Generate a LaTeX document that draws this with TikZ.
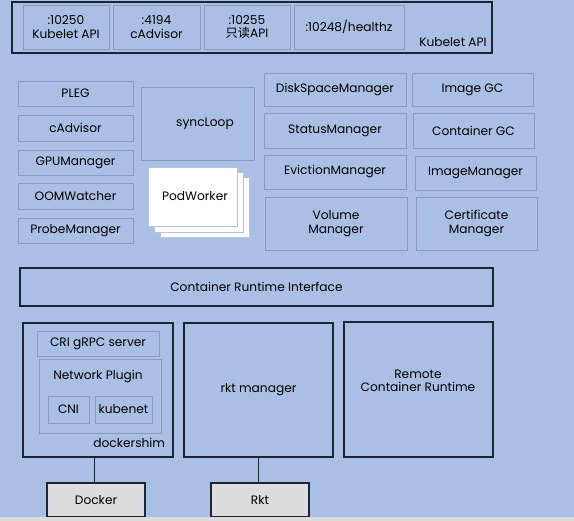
\documentclass[tikz,border=0pt]{standalone}
\usepackage{fontspec}
\setmainfont{Poppins}
\newfontfamily\cjk{Noto Sans CJK SC}
\definecolor{bgblue}{HTML}{AABFE4}
\definecolor{darkb}{HTML}{1C2438}
\definecolor{lightb}{HTML}{8A9CC0}
\definecolor{grayfill}{HTML}{DCDCDC}
\begin{document}
\begin{tikzpicture}[x=1pt,y=-1pt,
  every node/.style={font=\fontsize{12.2}{13.5}\selectfont, text=black, align=center, inner sep=0pt, outer sep=0pt},
  mbox/.style={draw=lightb, line width=0.7pt, fill=bgblue},
  dbox/.style={draw=darkb, line width=1.2pt},
  gbox/.style={draw=darkb, line width=1.1pt, fill=grayfill},
  wbox/.style={draw=lightb!60, line width=0.6pt, fill=white},
  conn/.style={draw=darkb, line width=1pt}]
\fill[bgblue] (0,0) rectangle (574,521);
\useasboundingbox (0,0) rectangle (574,521);
% Kubelet API bar
\node[dbox, anchor=north west, minimum width=480, minimum height=51] (top) at (12,2) {};
\node[mbox, anchor=north west, minimum width=86, minimum height=44] (p1) at (23,5) {:10250\\Kubelet API};
\node[mbox, anchor=north west, minimum width=87, minimum height=44] (p2) at (113,5) {:4194\\cAdvisor};
\node[mbox, anchor=north west, minimum width=86, minimum height=44] (p3) at (204,5) {:10255\\{\cjk 只读}API};
\node[mbox, anchor=north west, minimum width=110, minimum height=44] (p4) at (294,5) {:10248/healthz};
\node (toplabel) at (453,42) {Kubelet API};
% left column
\node[mbox, anchor=north west, minimum width=115, minimum height=25] (pleg) at (18,81) {PLEG};
\node[mbox, anchor=north west, minimum width=115, minimum height=26] (cadv) at (18,115) {cAdvisor};
\node[mbox, anchor=north west, minimum width=115, minimum height=25] (gpu) at (18,150) {GPUManager};
\node[mbox, anchor=north west, minimum width=115, minimum height=26] (oom) at (18,183) {OOMWatcher};
\node[mbox, anchor=north west, minimum width=115, minimum height=25] (probe) at (18,218) {ProbeManager};
% syncLoop & PodWorker
\node[mbox, anchor=north west, minimum width=113, minimum height=73] (sync) at (141,87) {\hspace*{15pt}syncLoop};
\node[wbox, anchor=north west, minimum width=89, minimum height=60] (pw3) at (160,177) {};
\node[wbox, anchor=north west, minimum width=89, minimum height=60] (pw2) at (154,172) {};
\node[wbox, anchor=north west, minimum width=89, minimum height=59] (pw1) at (148,167) {\hspace*{5pt}PodWorker};
% right managers
\node[mbox, anchor=north west, minimum width=142, minimum height=33] (disk) at (264,73) {DiskSpaceManager};
\node[mbox, anchor=north west, minimum width=121, minimum height=33] (igc) at (412,73) {Image GC};
\node[mbox, anchor=north west, minimum width=142, minimum height=35] (status) at (264,113) {StatusManager};
\node[mbox, anchor=north west, minimum width=121, minimum height=35] (cgc) at (413,113) {Container GC};
\node[mbox, anchor=north west, minimum width=142, minimum height=34] (evict) at (264,155) {EvictionManager};
\node[mbox, anchor=north west, minimum width=121, minimum height=34] (imgm) at (415,156) {ImageManager};
\node[mbox, anchor=north west, minimum width=142, minimum height=53] (vol) at (265,197) {Volume\\Manager};
\node[mbox, anchor=north west, minimum width=121, minimum height=53] (cert) at (416,197) {Certificate\\Manager};
% CRI
\node[dbox, anchor=north west, minimum width=473, minimum height=38] (cri) at (20,268) {Container Runtime Interface};
% dockershim
\node[dbox, anchor=north west, minimum width=150, minimum height=134] (shim) at (23,323) {};
\node[mbox, anchor=north west, minimum width=122, minimum height=25] (grpc) at (37,331) {CRI gRPC server};
\node[mbox, anchor=north west, minimum width=122, minimum height=74] (net) at (39,359) {};
\node (netlabel) at (98,377) {Network Plugin};
\node[mbox, anchor=north west, minimum width=41, minimum height=27] (cni) at (48,396) {CNI};
\node[mbox, anchor=north west, minimum width=57, minimum height=27] (kubenet) at (95,396) {kubenet};
\node[anchor=east] (shimlabel) at (165,443) {dockershim};
\node[dbox, anchor=north west, minimum width=149, minimum height=134] (rkt) at (184,323) {rkt manager};
\node[dbox, anchor=north west, minimum width=149, minimum height=135] (remote) at (344,322) {};
\node (remotelabel) at (418,381) {Remote\\Container Runtime};
% runtimes
\node[gbox, anchor=north west, minimum width=98, minimum height=34] (docker) at (47,483) {Docker};
\node[gbox, anchor=north west, minimum width=98, minimum height=34] (rktbox) at (211,483) {Rkt};
\coordinate (dockconn) at (94,457);
\draw[conn] (dockconn) -- (dockconn |- docker.north);
\draw[conn] (rkt.south) -- (rkt.south |- rktbox.north);
\fill[grayfill] (0,517) rectangle (574,521);
\end{tikzpicture}
\end{document}
